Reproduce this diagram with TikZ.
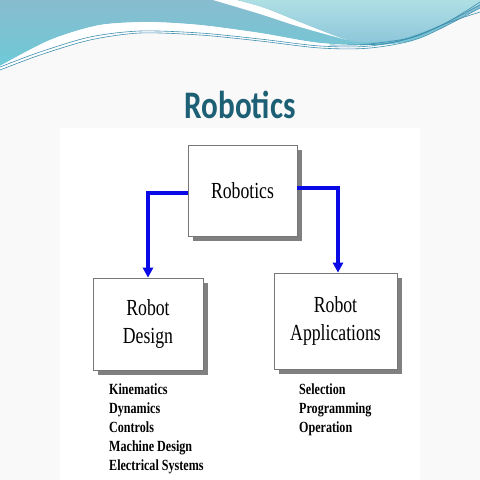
\documentclass[tikz,border=0pt]{standalone}
\usepackage{fontspec}
\usetikzlibrary{arrows.meta,shadows}
\newfontfamily\boxfont[FakeStretch=0.77]{Liberation Serif}
\newfontfamily\listfont[FakeStretch=0.78]{Liberation Serif}
\newfontfamily\titlefont[FakeStretch=0.8]{Carlito}
\definecolor{bgcol}{HTML}{F9F9F9}
\definecolor{hbluetop}{HTML}{88BCCF}
\definecolor{hcyan}{HTML}{6ECAD7}
\definecolor{aquatop}{HTML}{AEDFE3}
\definecolor{aquabot}{HTML}{8EC6DA}
\definecolor{hline}{HTML}{3F8FB0}
\definecolor{titlecol}{HTML}{1D5F75}
\definecolor{boxline}{HTML}{777777}
\definecolor{shadowgray}{HTML}{808080}
\definecolor{arrowblue}{HTML}{0A0AE6}
\tikzset{
  box/.style={draw=boxline, line width=0.7pt, fill=white, inner sep=0pt, align=center,
    font=\boxfont\fontsize{23}{28.5}\selectfont,
    drop shadow={shadow xshift=5pt, shadow yshift=-5pt, fill=shadowgray, opacity=1}},
  arr/.style={draw=arrowblue, line width=3.2pt, -{Triangle[length=10pt,width=10pt]}},
  listitem/.style={anchor=base west, inner sep=0pt, font=\listfont\bfseries\fontsize{15.5}{19}\selectfont},
  titletext/.style={anchor=base, inner sep=0pt, text=titlecol, font=\titlefont\bfseries\fontsize{39}{44}\selectfont},
  wavefine/.style={draw=hline, line width=0.6pt}
}
\begin{document}
\begin{tikzpicture}[x=1pt,y=-1pt]
\useasboundingbox (0,0) rectangle (480,480);
% background
\fill[bgcol] (0,0) rectangle (480,480);
% header wave
\shade[top color=hbluetop, bottom color=hcyan] (0,0) -- (480,0) -- plot[smooth] coordinates {(480,25) (430,38) (380,45) (320,43) (260,33) (200,25) (150,22) (100,25) (50,40) (0,66)} -- cycle;
\fill[white] plot[smooth] coordinates {(150,22) (200,25) (260,33) (320,43) (380,45) (430,38) (480,25)} -- (480,60) -- plot[smooth] coordinates {(480,8) (420,38) (370,48) (320,48) (260,41) (200,35) (140,33) (90,40) (40,55) (0,70)} -- (0,66) -- plot[smooth] coordinates {(0,66) (50,40) (100,25) (150,22)} -- cycle;
\fill[bgcol] plot[smooth] coordinates {(0,71) (40,56) (90,41) (140,34) (200,36) (260,42) (320,49) (370,49) (420,39) (480,9)} -- (480,128) -- (0,128) -- cycle;
\fill[white] plot[smooth] coordinates {(213,0) (260,14) (300,27) (347,40)} -- plot[smooth] coordinates {(347,40) (300,22) (265,8) (237,0)} -- cycle;
\shade[top color=aquatop, bottom color=aquabot] (237,0) -- (480,0) -- plot[smooth] coordinates {(480,4) (440,25) (400,39) (370,42) (347,40) (300,22) (265,8) (237,0)} -- cycle;
\draw[wavefine] plot[smooth] coordinates {(0,70) (40,55) (90,40) (140,33) (200,35) (260,41) (320,48) (370,48) (420,38) (480,8)};
\draw[wavefine] plot[smooth] coordinates {(0,67) (40,52) (90,37) (140,31) (200,33) (260,39) (320,46) (370,46) (420,35) (480,5)};
\draw[wavefine] plot[smooth] coordinates {(330,45) (390,43) (440,26) (480,2)};
\draw[wavefine] plot[smooth] coordinates {(360,45) (410,38) (450,22) (480,12)};
% title
\node[titletext] (ttl) at (240,118) {Robotics};
% white panel
\fill[white] (60,128) rectangle (420,480);
% boxes
\node[box, minimum width=109pt, minimum height=91pt] (rob) at (242.5,190.5) {Robotics};
\node[box, minimum width=110pt, minimum height=92pt] (des) at (148,324) {Robot\\Design};
\node[box, minimum width=123pt, minimum height=96pt] (app) at (335.5,321) {Robot\\Applications};
% arrows
\draw[arr] ([yshift=-2.5pt]rob.west) -| (des.north);
\draw[arr] ([yshift=2.5pt]rob.east) -| ([xshift=2.5pt]app.north);
% lists
\node[listitem] (l1) at (109,394) {Kinematics};
\node[listitem] (l2) at (109,413) {Dynamics};
\node[listitem] (l3) at (109,432) {Controls};
\node[listitem] (l4) at (109,451) {Machine Design};
\node[listitem] (l5) at (109,470) {Electrical Systems};
\node[listitem] (r1) at (299,394) {Selection};
\node[listitem] (r2) at (299,413) {Programming};
\node[listitem] (r3) at (299,432) {Operation};
\end{tikzpicture}
\end{document}
